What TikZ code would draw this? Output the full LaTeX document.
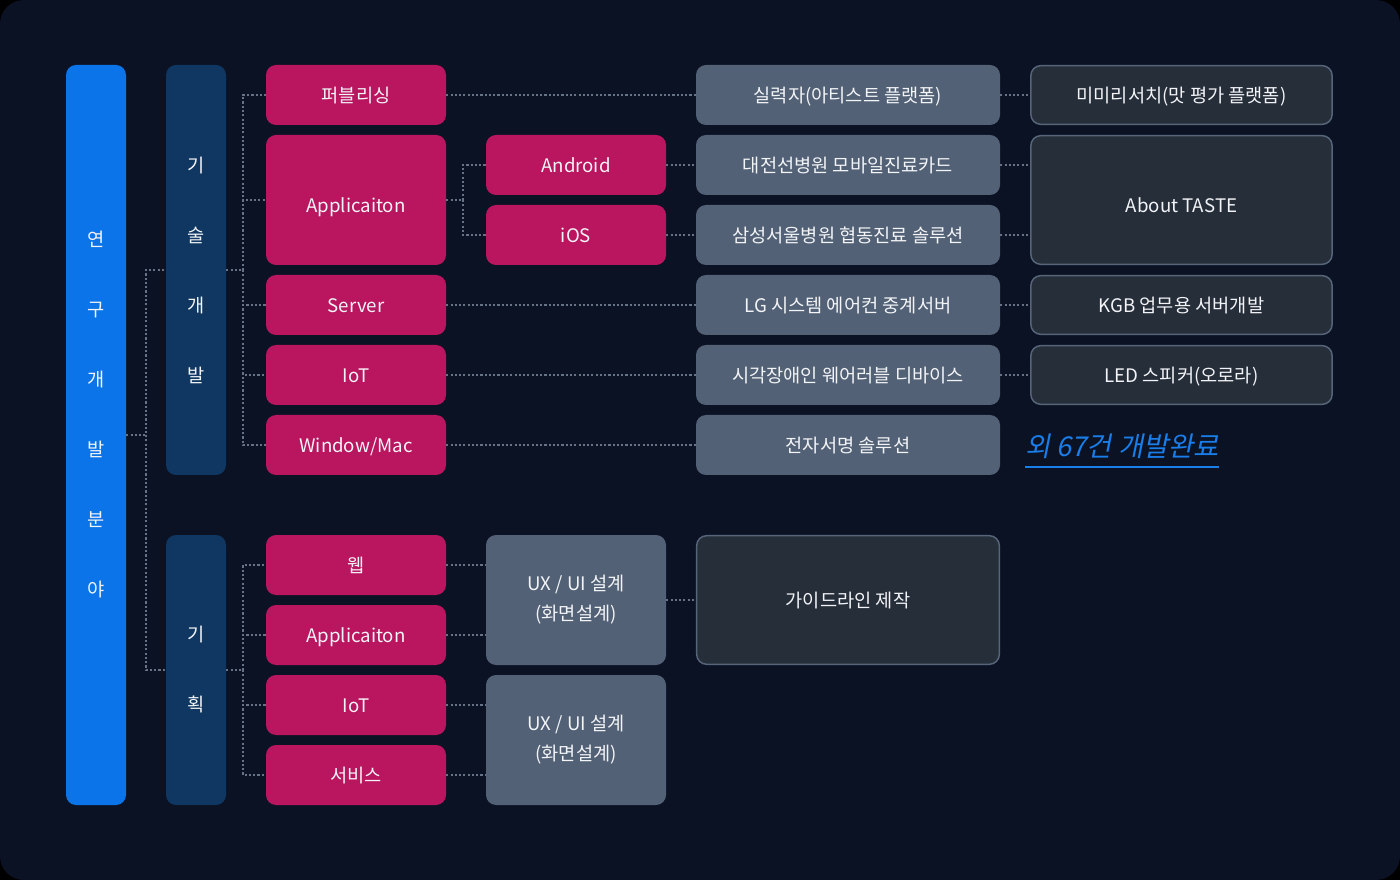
\documentclass[tikz,border=0pt]{standalone}
\usepackage{fontspec}
\setmainfont{Noto Sans CJK KR}
\newfontfamily\slantfont[FakeSlant=0.2]{Noto Sans CJK KR}
\usetikzlibrary{calc}
\definecolor{bgnavy}{HTML}{0B1224}
\definecolor{mainblue}{HTML}{0B74E8}
\definecolor{deepblue}{HTML}{0F3761}
\definecolor{berry}{HTML}{BA155F}
\definecolor{slate}{HTML}{526175}
\definecolor{charcoal}{HTML}{262E3A}
\definecolor{rim}{HTML}{56657A}
\definecolor{dotgray}{HTML}{667286}
\definecolor{linkblue}{HTML}{1A7EEA}
\definecolor{paper}{HTML}{F2F4F7}
\tikzset{
  box/.style={rounded corners=7.5pt, text=paper, font=\fontsize{14}{17}\selectfont, inner sep=0pt, align=center, text height=12.3pt, text depth=1.7pt},
  bar/.style={box, minimum width=45pt},
  stack/.style={font=\fontsize{14}{52.5}\selectfont, text height=, text depth=},
  pinkbox/.style={box, fill=berry, minimum width=135pt, minimum height=45pt},
  greybox/.style={box, fill=slate, minimum width=228pt, minimum height=45pt},
  darkbox/.style={box, fill=charcoal, draw=rim, line width=1.1pt, minimum width=226pt, minimum height=44pt},
  twoline/.style={font=\fontsize{14}{22.5}\selectfont, text height=, text depth=},
  lowtext/.style={text height=19.8pt},
  dots/.style={draw=dotgray, line width=1.7pt, dash pattern=on 1.6pt off 1.6pt},
}

\begin{document}
\begin{tikzpicture}[x=0.75pt, y=-0.75pt]
		%%%%% START %%%%%
		\useasboundingbox (0, 0) rectangle (1400, 880);
		\fill[black] (0, 0) rectangle (1400, 880);
		\fill[bgnavy, rounded corners=18pt] (0, 0) rectangle (1400, 880);
		
		% left bars
		\node[bar, fill=mainblue, minimum height=555pt] (rnd) at (96, 435) {};
		\node[box, stack] (rndtxt) at (96, 415) {연\\구\\개\\발\\분\\야};
		\node[bar, fill=deepblue, minimum height=307.5pt, stack] (tech) at (196, 270) {기\\술\\개\\발};
		\node[bar, fill=deepblue, minimum height=202.5pt, stack] (plan) at (196, 670) {기\\획};
		
		% development
		\node[pinkbox] (pub) at (356, 95) {퍼블리싱};
		\node[pinkbox, lowtext, minimum height=97.5pt] (app) at (356, 200) {Applicaiton};
		\node[pinkbox] (server) at (356, 305) {Server};
		\node[pinkbox] (iot) at (356, 375) {IoT};
		\node[pinkbox] (win) at (356, 445) {Window/Mac};
		\node[pinkbox] (android) at (576, 165) {Android};
		\node[pinkbox] (ios) at (576, 235) {iOS};
		
		\node[greybox] (talent) at (848, 95) {실력자(아티스트 플랫폼)};
		\node[greybox] (sunhosp) at (848, 165) {대전선병원 모바일진료카드};
		\node[greybox] (samsung) at (848, 235) {삼성서울병원 협동진료 솔루션};
		\node[greybox] (lgserver) at (848, 305) {LG 시스템 에어컨 중계서버};
		\node[greybox] (wearable) at (848, 375) {시각장애인 웨어러블 디바이스};
		\node[greybox] (esign) at (848, 445) {전자서명 솔루션};
		
		\node[darkbox] (mimi) at (1181.5, 95) {미미리서치(맛 평가 플랫폼)};
		\node[darkbox, lowtext, minimum height=96.5pt] (taste) at (1181.5, 200) {About TASTE};
		\node[darkbox] (kgb) at (1181.5, 305) {KGB 업무용 서버개발};
		\node[darkbox] (led) at (1181.5, 375) {LED 스피커(오로라)};
		
		\node[inner sep=0pt, text=linkblue, font=\slantfont\fontsize{20.5}{24}\selectfont] (more) at (1122, 446) {외 67건 개발완료};
		\draw[linkblue, line width=1.5pt] ([yshift=-6pt]more.south west) -- ([yshift=-6pt]more.south east);
		
		% planning
		\node[pinkbox] (web) at (356, 565) {웹};
		\node[pinkbox] (papp) at (356, 635) {Applicaiton};
		\node[pinkbox] (piot) at (356, 705) {IoT};
		\node[pinkbox] (svc) at (356, 775) {서비스};
		\node[greybox, twoline, minimum width=135pt, minimum height=97.5pt] (ux1) at (576, 600) {UX / UI 설계\\(화면설계)};
		\node[greybox, twoline, minimum width=135pt, minimum height=97.5pt] (ux2) at (576, 740) {UX / UI 설계\\(화면설계)};
		\node[darkbox, minimum width=227pt, minimum height=96.5pt] (guide) at (848, 600) {가이드라인 제작};
		
		% dotted links
		\coordinate (rj) at (146, 435);
		\draw[dots] (rnd.east) -- (rj) |- (tech.west);
		\draw[dots] (rj) |- (plan.west);
		
		\coordinate (tj) at (243, 270);
		\draw[dots] (tech.east) -- (tj);
		\foreach \n in {pub, app, server, iot, win}
			\draw[dots] (tj) |- (\n.west);
		\coordinate (aj) at (463, 200);
		\draw[dots] (app.east) -- (aj);
		\foreach \n in {android, ios}
			\draw[dots] (aj) |- (\n.west);
		
		\draw[dots] (pub.east) -- (talent.west);
		\draw[dots] (android.east) -- (sunhosp.west);
		\draw[dots] (ios.east) -- (samsung.west);
		\draw[dots] (server.east) -- (lgserver.west);
		\draw[dots] (iot.east) -- (wearable.west);
		\draw[dots] (win.east) -- (esign.west);
		
		\draw[dots] (talent.east) -- (mimi.west);
		\draw[dots] (sunhosp.east) -- (sunhosp.east -| taste.west);
		\draw[dots] (samsung.east) -- (samsung.east -| taste.west);
		\draw[dots] (lgserver.east) -- (kgb.west);
		\draw[dots] (wearable.east) -- (led.west);
		
		\coordinate (pj) at (243, 670);
		\draw[dots] (plan.east) -- (pj);
		\foreach \n in {web, papp, piot, svc}
			\draw[dots] (pj) |- (\n.west);
		\draw[dots] (web.east) -- (web.east -| ux1.west);
		\draw[dots] (papp.east) -- (papp.east -| ux1.west);
		\draw[dots] (piot.east) -- (piot.east -| ux2.west);
		\draw[dots] (svc.east) -- (svc.east -| ux2.west);
		\draw[dots] (ux1.east) -- (guide.west);
		%%%%% END %%%%%
\end{tikzpicture}
\end{document}
